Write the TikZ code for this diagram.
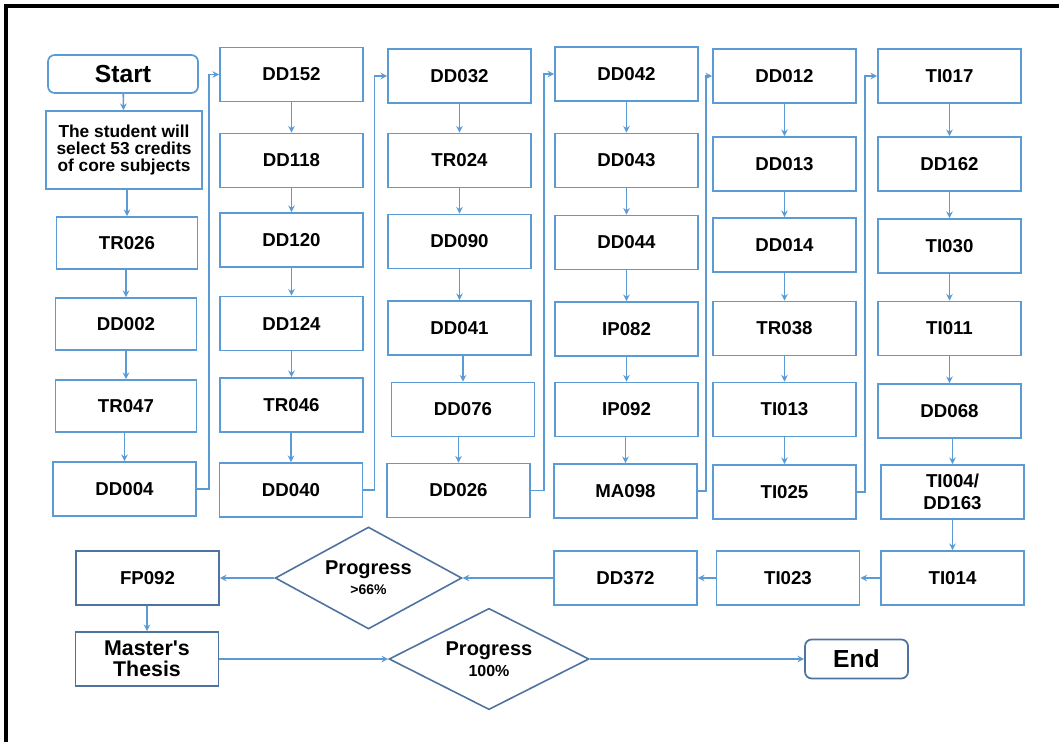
\documentclass[tikz,border=0pt]{standalone}
\usepackage{fontspec}
\setmainfont{Liberation Sans}
\newfontfamily\rawfont{Liberation Sans}
\usetikzlibrary{arrows.meta}
\usetikzlibrary{shapes.geometric}
\definecolor{boxblue}{RGB}{91,155,213}
\definecolor{edgeblue}{RGB}{78,115,158}
\tikzset{
  box/.style={draw=boxblue, line width=1.3pt, minimum width=107.25pt, minimum height=40.5pt,
    inner sep=1pt, align=center, font=\bfseries\fontsize{14}{16.5}\selectfont},
  firstbox/.style={box, minimum width=105.75pt, minimum height=39pt},
  ends/.style={box, rounded corners=5pt, font=\bfseries\fontsize{18.5}{20}\selectfont},
  check/.style={draw=edgeblue, line width=1.2pt, diamond, aspect=1.9, inner sep=0pt,
    align=center, font=\bfseries\fontsize{15}{17}\selectfont},
  link/.style={draw=boxblue, line width=1.2pt, -{Stealth[length=5pt,width=5pt]}},
}
\begin{document}
\begin{tikzpicture}[x=0.75pt,y=-0.75pt]
\useasboundingbox (0,0) rectangle (1059,742);
\draw[line width=3pt] (6,742) -- (6,6) -- (1059,6);

\node[ends, minimum width=112.5pt, minimum height=28.5pt] (start) at (123,74) {Start};
\node[box, minimum width=117pt, minimum height=58.5pt, font=\bfseries\fontsize{13}{12.5}\selectfont]
  (select) at (124,150) {The student will\\select 53 credits\\of core subjects};
\node[firstbox] (TR026) at (127,243) {TR026};
\node[firstbox] (DD002) at (126,324) {DD002};
\node[firstbox] (TR047) at (126,406) {TR047};
\node[box] (DD004) at (124.5,489) {DD004};

\node[box] (DD152) at (291.5,74.5) {DD152};
\node[box] (DD118) at (291.5,160.5) {DD118};
\node[box] (DD120) at (291.5,240) {DD120};
\node[box] (DD124) at (291.5,323.5) {DD124};
\node[box] (TR046) at (291.5,405) {TR046};
\node[box] (DD040) at (291,490) {DD040};

\node[box] (DD032) at (459.5,76) {DD032};
\node[box] (TR024) at (459.5,160.5) {TR024};
\node[box] (DD090) at (459.5,241.5) {DD090};
\node[box] (DD041) at (459.5,328) {DD041};
\node[box] (DD076) at (463,409.5) {DD076};
\node[box] (DD026) at (458.5,490.5) {DD026};

\node[box] (DD042) at (626.5,74) {DD042};
\node[box] (DD043) at (626.5,160.5) {DD043};
\node[box] (DD044) at (626.5,242.5) {DD044};
\node[box] (IP082) at (626.5,329) {IP082};
\node[box] (IP092) at (626.5,409.5) {IP092};
\node[box] (MA098) at (625.5,491) {MA098};

\node[box] (DD012) at (784.5,76) {DD012};
\node[box] (DD013) at (784.5,164) {DD013};
\node[box] (DD014) at (784.5,245) {DD014};
\node[box] (TR038) at (784.5,328.5) {TR038};
\node[box] (TI013) at (784.5,409.5) {TI013};
\node[box] (TI025) at (784.5,492) {TI025};

\node[box] (TI017) at (949.5,76) {TI017};
\node[box] (DD162) at (949.5,164) {DD162};
\node[box] (TI030) at (949.5,246) {TI030};
\node[box] (TI011) at (949.5,328.5) {TI011};
\node[box] (DD068) at (949.5,411) {DD068};
\node[box] (TI004) at (952.5,492) {TI004/\\DD163};
\node[box] (TI014) at (952.5,578) {TI014};

\node[box] (TI023) at (788,578) {TI023};
\node[box] (DD372) at (625.5,578) {DD372};
\node[check, minimum width=140pt, minimum height=76.5pt] (prog66) at (368.5,578)
  {Progress\\[-2pt]{\fontsize{10.5}{12}\selectfont >66\%}};
\node[box, draw=edgeblue] (FP092) at (147.5,578) {FP092};
\node[box, draw=edgeblue, font=\rawfont\bfseries\fontsize{16}{16}\selectfont] (thesis) at (147,659)
  {Master's\\Thesis};
\node[check, minimum width=150pt, minimum height=76pt] (prog100) at (489,659)
  {Progress\\[-1pt]{\fontsize{12}{14}\selectfont 100\%}};
\node[ends, draw=edgeblue, minimum width=77.25pt, minimum height=29.25pt] (end) at (856.5,659) {End};

\draw[link] (start) -- (select);
\draw[link] (select.south -| TR026.north) -- (TR026.north);
\draw[link] (TR026.south -| DD002.north) -- (DD002.north);
\draw[link] (DD002) -- (TR047);
\draw[link] (TR047.south -| DD004.north) -- (DD004.north);
\draw[link] (DD004.east) -- ++(12,0) |- (DD152.west);

\draw[link] (DD152) -- (DD118);
\draw[link] (DD118) -- (DD120);
\draw[link] (DD120) -- (DD124);
\draw[link] (DD124) -- (TR046);
\draw[link] (TR046.south -| DD040.north) -- (DD040.north);
\draw[link] (DD040.east) -- ++(11,0) |- (DD032.west);

\draw[link] (DD032) -- (TR024);
\draw[link] (TR024) -- (DD090);
\draw[link] (DD090) -- (DD041);
\draw[link] (DD041.south -| DD076.north) -- (DD076.north);
\draw[link] (DD076.south -| DD026.north) -- (DD026.north);
\draw[link] (DD026.east) -- ++(13,0) |- (DD042.west);

\draw[link] (DD042) -- (DD043);
\draw[link] (DD043) -- (DD044);
\draw[link] (DD044) -- (IP082);
\draw[link] (IP082) -- (IP092);
\draw[link] (IP092.south -| MA098.north) -- (MA098.north);
\draw[link] (MA098.east) -- ++(8,0) |- (DD012.west);

\draw[link] (DD012) -- (DD013);
\draw[link] (DD013) -- (DD014);
\draw[link] (DD014) -- (TR038);
\draw[link] (TR038) -- (TI013);
\draw[link] (TI013) -- (TI025);
\draw[link] (TI025.east) -- ++(8,0) |- (TI017.west);

\draw[link] (TI017) -- (DD162);
\draw[link] (DD162) -- (TI030);
\draw[link] (TI030) -- (TI011);
\draw[link] (TI011) -- (DD068);
\draw[link] (DD068.south -| TI004.north) -- (TI004.north);
\draw[link] (TI004) -- (TI014);

\draw[link] (TI014) -- (TI023);
\draw[link] (TI023) -- (DD372);
\draw[link] (DD372) -- (prog66);
\draw[link] (prog66) -- (FP092);
\draw[link] (FP092.south -| thesis.north) -- (thesis.north);
\draw[link] (thesis) -- (prog100);
\draw[link] (prog100) -- (end);
\end{tikzpicture}
\end{document}
